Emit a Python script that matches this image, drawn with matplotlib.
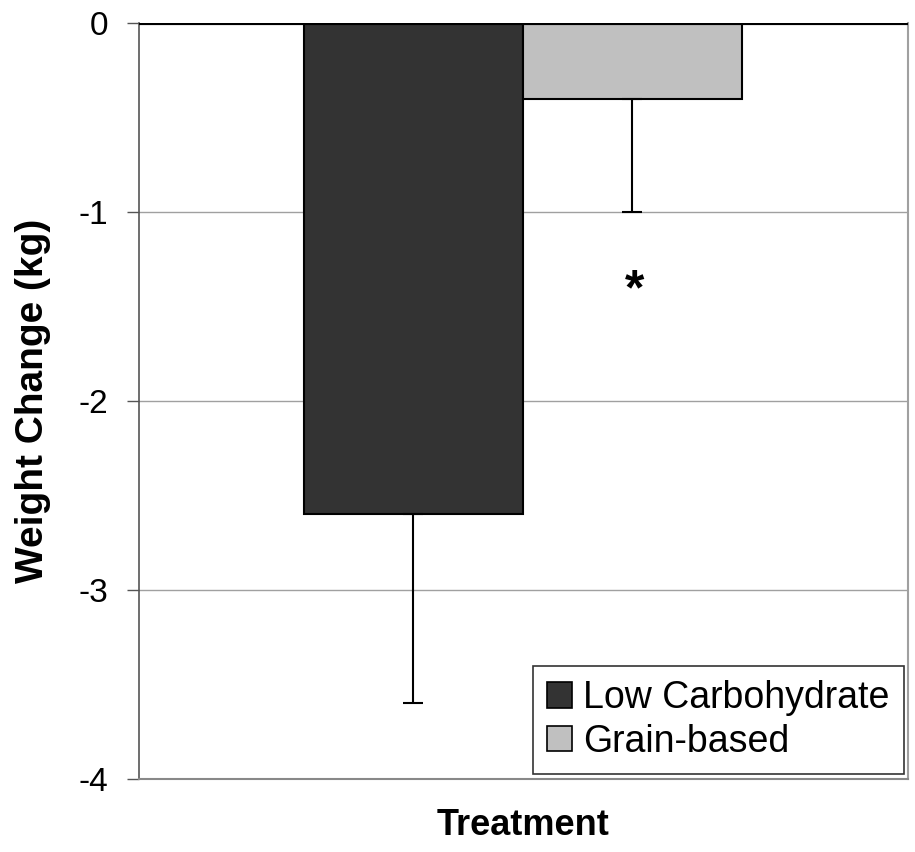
import matplotlib.pyplot as plt
from matplotlib.patches import Patch

plt.rcParams['font.family'] = ['Liberation Sans', 'DejaVu Sans']

groups = ["Low Carbohydrate", "Grain-based"]
weight_change = [-2.6, -0.4]
sem = [1.0, 0.6]
colors = ["#333333", "#c0c0c0"]
y_ticks = [0, -1, -2, -3, -4]

fig = plt.figure(figsize=(9.15, 8.52), dpi=100)
ax = fig.add_axes([0.152, 0.0857, 0.840, 0.8873])

positions = [0, 1]
for pos, val, err, col in zip(positions, weight_change, sem, colors):
    ax.bar(pos, val, width=1.0, color=col, edgecolor="black", linewidth=1.5, zorder=3)
    ax.errorbar(pos, val, yerr=[[err], [0]], fmt="none", ecolor="black",
                elinewidth=1.5, capsize=7, capthick=1.5, zorder=4)

ax.axhline(0, color="black", linewidth=3, zorder=5)
ax.text(1.01, -1.42, "*", ha="center", va="center", fontsize=36, fontweight="bold")

ax.set_xlim(-1.253, 2.258)
ax.set_ylim(-4, 0)
ax.set_yticks(y_ticks)
ax.set_yticklabels([str(t) for t in y_ticks], fontsize=24)
ax.set_xticks([])
ax.yaxis.grid(True, color="#a0a0a0", linewidth=1, zorder=0)
ax.tick_params(axis="y", length=9, width=1, color="#555555", pad=13)

ax.spines["left"].set_color("#555555")
ax.spines["left"].set_linewidth(1.2)
ax.spines["bottom"].set_color("#888888")
ax.spines["bottom"].set_linewidth(1.5)
ax.spines["right"].set_color("#a0a0a0")
ax.spines["right"].set_linewidth(1.5)
ax.spines["top"].set_visible(False)

ax.set_ylabel("Weight Change (kg)", fontsize=28, fontweight="bold", labelpad=20)
ax.set_xlabel("Treatment", fontsize=26, fontweight="bold", labelpad=21)

handles = [Patch(facecolor=c, edgecolor="black", linewidth=1.2) for c in colors]
leg = ax.legend(handles, groups, loc="lower right", fontsize=27, frameon=True,
                fancybox=False, edgecolor="black", handlelength=0.67, handleheight=0.67,
                handletextpad=0.3, borderpad=0.38, labelspacing=0.2,
                borderaxespad=0, bbox_to_anchor=(0.995, 0.0066))
leg.get_frame().set_linewidth(1.2)

fig.savefig("out.png", dpi=100)
